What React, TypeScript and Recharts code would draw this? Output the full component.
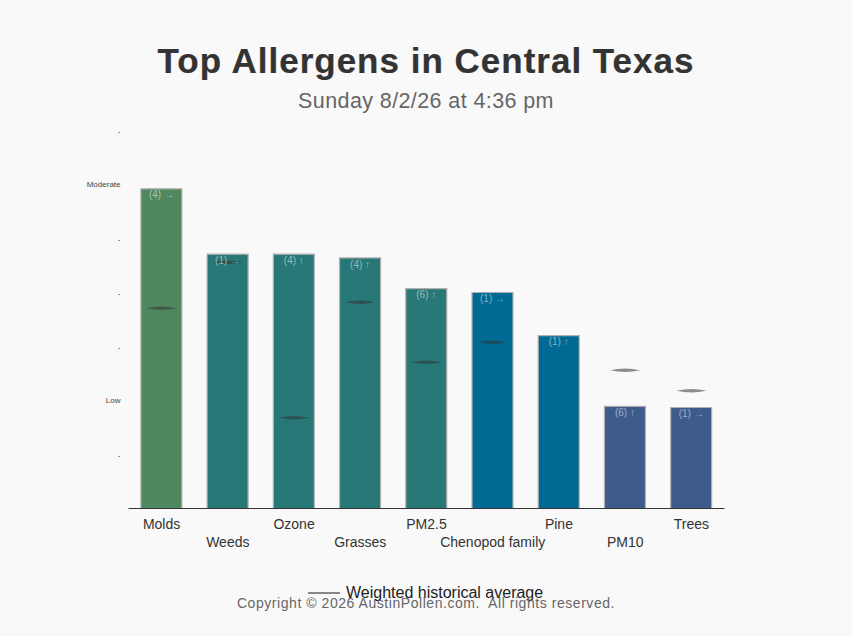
import { Bar, Cell, ComposedChart, LabelList, Line, XAxis, YAxis } from "recharts";

const allergens = ["Molds", "Weeds", "Ozone", "Grasses", "PM2.5", "Chenopod family", "Pine", "PM10", "Trees"];
const levels = [5.92, 4.71, 4.71, 4.64, 4.07, 4.0, 3.2, 1.89, 1.87];
const historical = [3.71, 4.56, 1.68, 3.82, 2.71, 3.08, null, 2.56, 2.18];
const trends = ["(4) →", "(1) →", "(4) ↑", "(4) ↑", "(6) ↑", "(1) →", "(1) ↑", "(6) ↑", "(1) →"];
const barColors = ["#4f875f", "#287877", "#287877", "#287877", "#287877", "#006a94", "#006a94", "#3d5c8c", "#3d5c8c"];
const yTicks = [1, 2, 3, 4, 5, 6, 7];
const yNames: Record<number, string> = { 2: "Low", 6: "Moderate" };

const data = allergens.map((name, i) => ({
  name,
  level: levels[i],
  historical: historical[i],
  trend: trends[i],
}));

const FONT = '"Liberation Sans", Arial, sans-serif';

// Every other category label drops to a second row so they don't collide
function StaggeredTick({ x, y, payload, index }: any) {
  return (
    <text x={x} y={y + (index % 2 ? 30.5 : 12.5)} textAnchor="middle" fontSize={14} fill="#333" fontFamily={FONT}>
      {payload.value}
    </text>
  );
}

function LevelTick({ x, y, payload }: any) {
  const name = yNames[payload.value];
  return (
    <text x={x} y={y + (name ? 2.5 : 3)} textAnchor="end" fontSize={8} fill="#444" fontFamily={FONT}>
      {name ?? "-"}
    </text>
  );
}

// Lens-shaped marker for the weighted historical average
function AverageMark({ cx, cy, payload }: any) {
  if (cy == null || payload.historical == null) return <g />;
  return (
    <path
      d={`M${cx - 15} ${cy} Q${cx} ${cy - 3.4} ${cx + 15} ${cy} Q${cx} ${cy + 3.4} ${cx - 15} ${cy}Z`}
      fill="#333"
      fillOpacity={0.55}
    />
  );
}

export default function App() {
  return (
    <div style={{ position: "absolute", left: 0, top: 0, width: 852, height: 636, background: "#f9f9f9", fontFamily: FONT, overflow: "hidden" }}>
      <div style={{ position: "absolute", top: 39, width: 852, textAlign: "center", fontSize: 35, lineHeight: "44px", fontWeight: 700, color: "#333", letterSpacing: 1, WebkitTextStroke: "0.2px #333" }}>
        Top Allergens in Central Texas
      </div>
      <div style={{ position: "absolute", top: 87, width: 852, textAlign: "center", fontSize: 21.5, lineHeight: "28px", color: "#666", letterSpacing: 0.4 }}>
        Sunday 8/2/26 at 4:36 pm
      </div>
      <ComposedChart
        width={852}
        height={636}
        data={data}
        barCategoryGap="18.7%"
        margin={{ top: 130.5, right: 127.5, bottom: 67.5, left: 68.5 }}
      >
        <XAxis
          dataKey="name"
          interval={0}
          height={60}
          tick={<StaggeredTick />}
          tickLine={false}
          stroke="#333"
        />
        <YAxis
          type="number"
          width={60}
          domain={[0, 7]}
          ticks={yTicks}
          interval={0}
          axisLine={false}
          tickLine={false}
          tick={<LevelTick />}
        />
        <Bar dataKey="level" stroke="#b0b0b0" strokeWidth={1.2} isAnimationActive={false}>
          {data.map((d, i) => (
            <Cell key={d.name} fill={barColors[i]} />
          ))}
          <LabelList dataKey="trend" position="insideTop" offset={2.5} fontSize={10} fill="#fff" fillOpacity={0.5} fontFamily={FONT} />
        </Bar>
        <Line dataKey="historical" stroke="none" dot={<AverageMark />} activeDot={false} legendType="none" isAnimationActive={false} />
      </ComposedChart>
      <div style={{ position: "absolute", left: 308, top: 592, width: 32, height: 2, background: "#888" }} />
      <div style={{ position: "absolute", left: 346, top: 583, fontSize: 16, lineHeight: "20px", color: "#222", whiteSpace: "nowrap" }}>
        Weighted historical average
      </div>
      <div style={{ position: "absolute", top: 595, width: 852, textAlign: "center", fontSize: 14, lineHeight: "16px", color: "#666", letterSpacing: 0.55, whiteSpace: "pre" }}>
        {"Copyright © 2026 AustinPollen.com.  All rights reserved."}
      </div>
    </div>
  );
}
